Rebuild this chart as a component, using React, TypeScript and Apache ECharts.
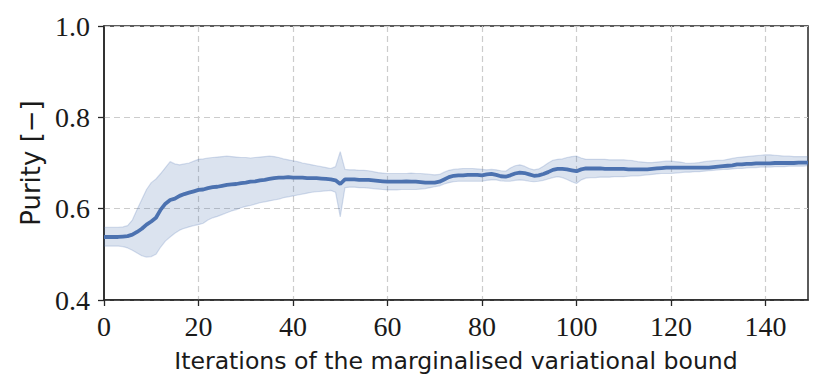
import React, { useEffect, useRef } from "react";
import * as echarts from "echarts";

const iterations = Array.from({ length: 150 }, (_, i) => String(i));
const xTicks = [0, 20, 40, 60, 80, 100, 120, 140];
const yTicks = [0.4, 0.6, 0.8, 1.0];

const meanPurity = [
  0.538, 0.538, 0.538, 0.538, 0.539, 0.540, 0.543, 0.549, 0.556, 0.565,
  0.572, 0.580, 0.598, 0.611, 0.619, 0.622, 0.628, 0.632, 0.635, 0.638,
  0.641, 0.642, 0.645, 0.647, 0.648, 0.650, 0.652, 0.653, 0.654, 0.656,
  0.657, 0.659, 0.660, 0.662, 0.663, 0.665, 0.667, 0.668, 0.668, 0.669,
  0.668, 0.668, 0.668, 0.667, 0.667, 0.667, 0.666, 0.665, 0.664, 0.662,
  0.654, 0.664, 0.664, 0.664, 0.663, 0.663, 0.663, 0.662, 0.661, 0.660,
  0.659, 0.659, 0.659, 0.659, 0.660, 0.659, 0.659, 0.658, 0.657, 0.657,
  0.657, 0.659, 0.664, 0.669, 0.672, 0.673, 0.673, 0.674, 0.674, 0.674,
  0.673, 0.675, 0.676, 0.674, 0.671, 0.670, 0.673, 0.677, 0.679, 0.678,
  0.675, 0.672, 0.673, 0.676, 0.680, 0.685, 0.687, 0.687, 0.686, 0.684,
  0.682, 0.686, 0.688, 0.688, 0.688, 0.688, 0.687, 0.687, 0.687, 0.687,
  0.687, 0.686, 0.686, 0.686, 0.686, 0.686, 0.687, 0.688, 0.689, 0.690,
  0.690, 0.690, 0.690, 0.690, 0.690, 0.690, 0.690, 0.690, 0.690, 0.691,
  0.692, 0.693, 0.694, 0.695, 0.697, 0.697, 0.698, 0.698, 0.699, 0.699,
  0.699, 0.699, 0.700, 0.700, 0.700, 0.700, 0.700, 0.701, 0.701, 0.701,
];

const upperPurity = [
  0.559, 0.559, 0.559, 0.559, 0.560, 0.563, 0.575, 0.598, 0.620, 0.642,
  0.657, 0.665, 0.677, 0.690, 0.703, 0.698, 0.696, 0.698, 0.700, 0.704,
  0.708, 0.709, 0.711, 0.712, 0.713, 0.714, 0.715, 0.714, 0.713, 0.712,
  0.712, 0.711, 0.712, 0.713, 0.714, 0.715, 0.714, 0.712, 0.709, 0.707,
  0.705, 0.703, 0.700, 0.698, 0.696, 0.694, 0.692, 0.690, 0.688, 0.692,
  0.725, 0.686, 0.685, 0.685, 0.684, 0.684, 0.683, 0.681, 0.679, 0.678,
  0.677, 0.677, 0.677, 0.677, 0.677, 0.678, 0.677, 0.677, 0.676, 0.675,
  0.674, 0.675, 0.680, 0.684, 0.686, 0.687, 0.688, 0.688, 0.688, 0.687,
  0.686, 0.685, 0.686, 0.685, 0.683, 0.682, 0.689, 0.694, 0.696, 0.693,
  0.688, 0.685, 0.687, 0.693, 0.700, 0.706, 0.708, 0.709, 0.712, 0.714,
  0.715, 0.711, 0.708, 0.708, 0.708, 0.708, 0.708, 0.707, 0.707, 0.707,
  0.707, 0.706, 0.705, 0.703, 0.702, 0.701, 0.701, 0.702, 0.703, 0.704,
  0.704, 0.703, 0.702, 0.700, 0.699, 0.700, 0.701, 0.703, 0.704, 0.705,
  0.706, 0.706, 0.708, 0.710, 0.712, 0.713, 0.714, 0.715, 0.716, 0.717,
  0.718, 0.718, 0.717, 0.716, 0.715, 0.715, 0.714, 0.714, 0.714, 0.714,
];

const lowerPurity = [
  0.518, 0.518, 0.518, 0.518, 0.517, 0.514, 0.509, 0.503, 0.497, 0.494,
  0.495, 0.500, 0.516, 0.529, 0.538, 0.546, 0.553, 0.557, 0.560, 0.563,
  0.565, 0.568, 0.575, 0.580, 0.583, 0.587, 0.591, 0.595, 0.598, 0.602,
  0.605, 0.607, 0.610, 0.613, 0.615, 0.617, 0.619, 0.621, 0.624, 0.626,
  0.628, 0.630, 0.632, 0.634, 0.636, 0.637, 0.638, 0.639, 0.640, 0.636,
  0.582, 0.646, 0.647, 0.647, 0.646, 0.646, 0.645, 0.644, 0.643, 0.642,
  0.641, 0.641, 0.641, 0.642, 0.642, 0.642, 0.642, 0.643, 0.644, 0.646,
  0.648, 0.650, 0.654, 0.657, 0.659, 0.660, 0.660, 0.660, 0.660, 0.660,
  0.660, 0.662, 0.663, 0.663, 0.661, 0.660, 0.660, 0.662, 0.663, 0.662,
  0.660, 0.659, 0.660, 0.662, 0.665, 0.668, 0.670, 0.668, 0.664, 0.659,
  0.655, 0.663, 0.667, 0.668, 0.668, 0.669, 0.669, 0.669, 0.670, 0.670,
  0.670, 0.671, 0.672, 0.672, 0.673, 0.674, 0.675, 0.676, 0.677, 0.677,
  0.677, 0.678, 0.679, 0.680, 0.680, 0.681, 0.681, 0.682, 0.683, 0.684,
  0.685, 0.686, 0.686, 0.687, 0.688, 0.688, 0.689, 0.690, 0.690, 0.691,
  0.691, 0.691, 0.692, 0.692, 0.692, 0.693, 0.693, 0.693, 0.693, 0.694,
];

const BLUE = "#4c72b0";
const SERIF = "'Liberation Serif', 'DejaVu Serif', serif";
const SANS = "'DejaVu Sans', 'Noto Sans', sans-serif";
const isTick = (idx: number) => xTicks.includes(idx);

export default function App() {
  const ref = useRef<HTMLDivElement>(null);
  useEffect(() => {
    if (!ref.current) return;
    const chart = echarts.init(ref.current, undefined, { renderer: "svg" });
    const bandData = upperPurity.map((v, i) => +(v - lowerPurity[i]).toFixed(4));
    chart.setOption({
      animation: false,
      grid: {
        left: 96,
        right: 23,
        top: 18,
        bottom: 90,
        show: true,
        borderColor: "#262626",
        borderWidth: 1.5,
        backgroundColor: "transparent",
      },
      xAxis: {
        type: "category",
        data: iterations,
        boundaryGap: false,
        name: "Iterations of the marginalised variational bound",
        nameLocation: "middle",
        nameGap: 49,
        nameTextStyle: { fontFamily: SANS, fontSize: 23.6, color: "#1a1a1a" },
        axisLine: { show: true, lineStyle: { color: "#262626", width: 1.5 } },
        axisTick: {
          show: true,
          length: 6,
          interval: (idx: number) => isTick(idx),
          lineStyle: { color: "#262626", width: 1.3 },
        },
        axisLabel: {
          fontFamily: SERIF,
          fontSize: 28,
          color: "#1a1a1a",
          margin: 12,
          interval: (idx: number) => isTick(idx),
        },
        splitLine: {
          show: true,
          interval: (idx: number) => isTick(idx) && idx !== 0,
          lineStyle: { color: "#cccccc", type: [6, 4], width: 1.2 },
        },
      },
      yAxis: {
        type: "value",
        min: 0.4,
        max: 1.0,
        interval: 0.2,
        name: "Purity [−]",
        nameLocation: "middle",
        nameGap: 60,
        nameTextStyle: { fontFamily: SANS, fontSize: 26, color: "#1a1a1a" },
        axisLine: { show: true, lineStyle: { color: "#262626", width: 1.5 } },
        axisTick: { show: true, length: 6, lineStyle: { color: "#262626", width: 1.3 } },
        axisLabel: {
          fontFamily: SERIF,
          fontSize: 28,
          color: "#1a1a1a",
          margin: 14,
          formatter: (v: number) => {
            const t = yTicks.find((y) => Math.abs(y - v) < 1e-6);
            return t !== undefined ? t.toFixed(1) : "";
          },
        },
        splitLine: { show: true, lineStyle: { color: "#cccccc", type: [6, 4], width: 1.2 } },
      },
      series: [
        {
          type: "line",
          data: lowerPurity,
          stack: "band",
          symbol: "none",
          lineStyle: { color: BLUE, opacity: 0.22, width: 1.2 },
          silent: true,
        },
        {
          type: "line",
          data: bandData,
          stack: "band",
          symbol: "none",
          lineStyle: { color: BLUE, opacity: 0.22, width: 1.2 },
          areaStyle: { color: BLUE, opacity: 0.2 },
          silent: true,
        },
        {
          type: "line",
          data: meanPurity,
          symbol: "none",
          lineStyle: { color: BLUE, width: 3.8 },
          z: 5,
        },
      ],
    });
    return () => chart.dispose();
  }, []);
  return <div ref={ref} style={{ width: 823, height: 382 }} />;
}
